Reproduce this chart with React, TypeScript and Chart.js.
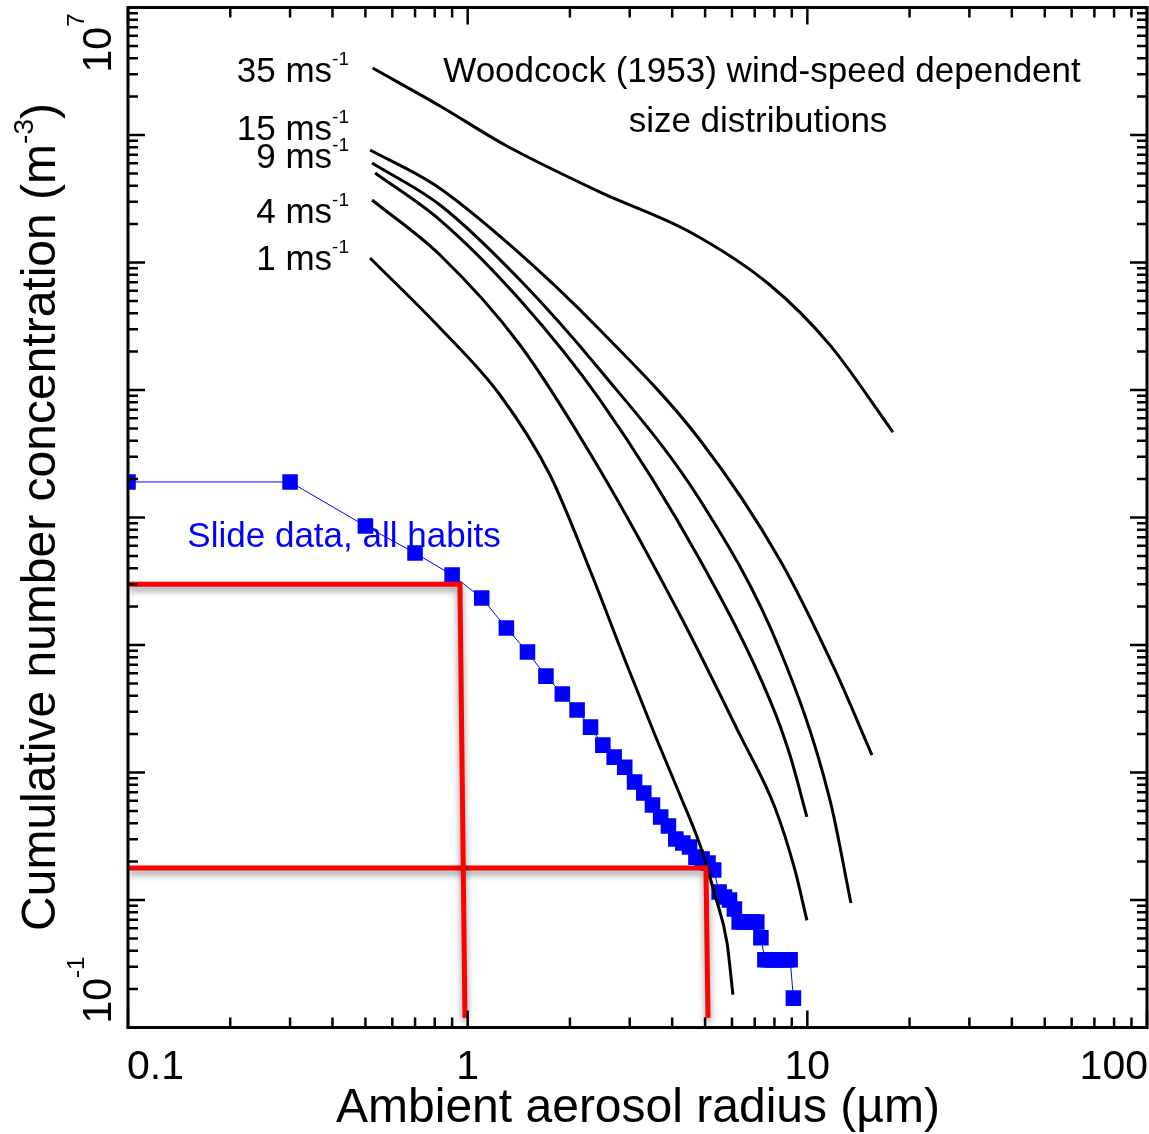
import React, { useEffect, useRef } from "react";
import { Chart, registerables } from "chart.js";

Chart.register(...registerables);

const FONT = '"Liberation Sans", Arial, Helvetica, sans-serif';

// Slide data (all habits): radius (um) and cumulative concentration (m^-3)
const slideRadius = [
  0.1, 0.3, 0.5, 0.7, 0.9, 1.1, 1.3, 1.5, 1.7, 1.9, 2.1, 2.3, 2.5, 2.7, 2.9,
  3.1, 3.3, 3.5, 3.7, 3.9, 4.1, 4.3, 4.5, 4.7, 4.9, 5.1, 5.3, 5.5, 5.7, 5.9,
  6.1, 6.3, 6.5, 6.7, 6.9, 7.1, 7.3, 7.5, 7.7, 7.9, 8.1, 8.3, 8.5, 8.7, 8.9, 9.1,
];
const slideConc = [
  1900, 1900, 858, 527, 354, 234, 136, 88, 57, 41.3, 30.9, 22.7, 16.4, 13.2, 11.0,
  8.42, 6.9, 5.56, 4.48, 3.81, 3.01, 2.8, 2.6, 2.17, 2.1, 1.95, 1.72, 1.155, 1.055, 1.0,
  0.85, 0.672, 0.672, 0.672, 0.672, 0.672, 0.505, 0.34, 0.34, 0.34, 0.34, 0.34, 0.34, 0.34, 0.34, 0.17,
];

// Woodcock (1953) wind-speed dependent size distributions
const w35Radius = [0.525, 0.829, 1.288, 2.452, 4.512, 7.76, 11.66, 17.86];
const w35Conc = [3.35e6, 1.69e6, 8.35e5, 3.57e5, 1.735e5, 6.66e4, 2.25e4, 4.68e3];

const w15Radius = [0.516, 0.801, 1.332, 2.452, 4.83, 8.304, 12.06, 15.5];
const w15Conc = [7.63e5, 4.05e5, 1.372e5, 2.955e4, 4053, 464, 63.7, 13.7];

const w12Radius = [0.523, 0.829, 1.426, 2.452, 4.83, 8.304, 11.66, 13.44];
const w12Conc = [6.03e5, 2.825e5, 7.29e4, 1.435e4, 1372, 91.4, 6.08, 0.947];

const w9Radius = [0.534, 0.829, 1.426, 2.452, 4.83, 7.76, 8.887, 9.972];
const w9Conc = [5.04e5, 2.154e5, 5.08e4, 8350, 464, 37.0, 13.7, 4.48];

const w4Radius = [0.523, 0.829, 1.426, 2.452, 4.217, 6.332, 8.027, 9.192, 9.972];
const w4Conc = [3.09e5, 1.145e5, 2.254e4, 2358, 171.9, 19.7, 5.32, 1.72, 0.691];

const w1Radius = [0.516, 0.829, 1.245, 1.747, 2.291, 2.905, 3.559, 4.217, 4.83, 5.346, 5.799, 6.039];
const w1Conc = [1.085e5, 3.064e4, 9138, 2154, 387.5, 76.3, 19.7, 6.66, 2.7, 1.094, 0.464, 0.181];

// Red marker lines
const red1Radius = [0.1, 0.949, 0.982];
const red1Conc = [300, 300, 0.119];
const red2Radius = [0.1, 5.03, 5.1];
const red2Conc = [1.78, 1.78, 0.119];

// Axis ranges and labels
const xMin = 0.1;
const xMax = 100;
const yMin = 0.1;
const yMax = 1e7;
const xTickLabels = ["0.1", "1", "10", "100"];
const xTickValues = [0.1, 1, 10, 100];

const windLabels = [
  { speed: "35", baseline: 82 },
  { speed: "15", baseline: 140 },
  { speed: "9", baseline: 168 },
  { speed: "4", baseline: 223 },
  { speed: "1", baseline: 270 },
];

const pts = (xs: number[], ys: number[]) => xs.map((x, i) => ({ x, y: ys[i] }));

type Part = { text: string; size: number; raise?: number };

function drawRich(ctx: CanvasRenderingContext2D, parts: Part[], x: number, y: number, align: "left" | "right" | "center") {
  let total = 0;
  const widths = parts.map((p) => {
    ctx.font = `${p.size}px ${FONT}`;
    const w = ctx.measureText(p.text).width;
    total += w;
    return w;
  });
  let cx = align === "right" ? x - total : align === "center" ? x - total / 2 : x;
  ctx.textAlign = "left";
  ctx.textBaseline = "alphabetic";
  parts.forEach((p, i) => {
    ctx.font = `${p.size}px ${FONT}`;
    ctx.fillText(p.text, cx, y - (p.raise || 0));
    cx += widths[i];
  });
}

const shadowPlugin = {
  id: "redShadow",
  beforeDatasetDraw(chart: any, args: any) {
    const ds = chart.data.datasets[args.index];
    if (ds.shadow) {
      const ctx = chart.ctx;
      ctx.save();
      ctx.shadowColor = "rgba(0,0,0,0.45)";
      ctx.shadowBlur = 7;
      ctx.shadowOffsetX = 0;
      ctx.shadowOffsetY = 4;
    }
  },
  afterDatasetDraw(chart: any, args: any) {
    const ds = chart.data.datasets[args.index];
    if (ds.shadow) chart.ctx.restore();
  },
};

const framePlugin = {
  id: "idlFrame",
  afterDatasetsDraw(chart: any) {
    const ctx: CanvasRenderingContext2D = chart.ctx;
    const { left, right, top, bottom } = chart.chartArea;
    const xs = chart.scales.x;
    const ys = chart.scales.y;
    ctx.save();
    ctx.strokeStyle = "#000";
    ctx.fillStyle = "#000";
    ctx.lineWidth = 2.5;
    ctx.lineCap = "butt";
    const MAJ = 17;
    const MIN = 10;
    for (let d = xMin; d < xMax * 1.01; d *= 10) {
      for (let k = 1; k <= 9; k++) {
        const v = d * k;
        if (v > xMax * 1.001) break;
        const px = xs.getPixelForValue(v);
        const len = k === 1 ? MAJ : MIN;
        ctx.beginPath();
        ctx.moveTo(px, bottom);
        ctx.lineTo(px, bottom - len);
        ctx.moveTo(px, top);
        ctx.lineTo(px, top + len);
        ctx.stroke();
      }
    }
    for (let d = yMin; d < yMax * 1.01; d *= 10) {
      for (let k = 1; k <= 9; k++) {
        const v = d * k;
        if (v > yMax * 1.001) break;
        const py = ys.getPixelForValue(v);
        const len = k === 1 ? MAJ : MIN;
        ctx.beginPath();
        ctx.moveTo(left, py);
        ctx.lineTo(left + len, py);
        ctx.moveTo(right, py);
        ctx.lineTo(right - len, py);
        ctx.stroke();
      }
    }
    ctx.lineWidth = 3;
    ctx.strokeRect(left, top, right - left, bottom - top);

    // x tick labels
    xTickValues.forEach((v, i) => {
      const px = xs.getPixelForValue(v);
      const label = xTickLabels[i];
      if (i === 0) drawRich(ctx, [{ text: label, size: 41 }], px - 1, 1079, "left");
      else if (i === xTickValues.length - 1) drawRich(ctx, [{ text: label, size: 41 }], px + 1, 1079, "right");
      else drawRich(ctx, [{ text: label, size: 41 }], px, 1079, "center");
    });

    // y tick labels (rotated)
    const yl = [
      { v: yMax, exp: "7", align: "right" as const, off: 6 },
      { v: yMin, exp: "-1", align: "left" as const, off: -4 },
    ];
    yl.forEach((l) => {
      const py = ys.getPixelForValue(l.v) + l.off;
      ctx.save();
      ctx.translate(111, py);
      ctx.rotate(-Math.PI / 2);
      drawRich(ctx, [{ text: "10", size: 41 }, { text: l.exp, size: 24, raise: 27 }], 0, 0, l.align);
      ctx.restore();
    });

    // axis titles
    drawRich(ctx, [{ text: "Ambient aerosol radius (\u00b5m)", size: 48 }], 638, 1122, "center");
    ctx.save();
    ctx.translate(55, 517);
    ctx.rotate(-Math.PI / 2);
    drawRich(
      ctx,
      [
        { text: "Cumulative number concentration (m", size: 48 },
        { text: "-3", size: 28, raise: 22 },
        { text: ")", size: 48 },
      ],
      0,
      0,
      "center"
    );
    ctx.restore();

    // annotations
    windLabels.forEach((w) => {
      drawRich(ctx, [{ text: `${w.speed} ms`, size: 35 }, { text: "-1", size: 19, raise: 17 }], 349, w.baseline, "right");
    });
    drawRich(ctx, [{ text: "Woodcock (1953) wind-speed dependent", size: 35 }], 762, 82, "center");
    drawRich(ctx, [{ text: "size distributions", size: 35 }], 758, 132, "center");
    ctx.fillStyle = "#0000ff";
    drawRich(ctx, [{ text: "Slide data, all habits", size: 35 }], 344, 547, "center");
    ctx.restore();
  },
};

export default function App() {
  const ref = useRef<HTMLCanvasElement | null>(null);
  useEffect(() => {
    document.body.style.margin = "0";
    document.body.style.background = "#fff";
    const canvas = ref.current!;
    const black = (xs: number[], ys: number[]) => ({
      data: pts(xs, ys),
      borderColor: "#000",
      borderWidth: 3,
      pointRadius: 0,
      cubicInterpolationMode: "monotone" as const,
      fill: false,
    });
    const red = (xs: number[], ys: number[]) => ({
      data: pts(xs, ys),
      borderColor: "#ff0000",
      borderWidth: 5,
      pointRadius: 0,
      tension: 0,
      fill: false,
      shadow: true,
      borderJoinStyle: "miter" as const,
    });
    const chart = new Chart(canvas, {
      type: "line",
      data: {
        datasets: [
          red(red1Radius, red1Conc),
          red(red2Radius, red2Conc),
          black(w35Radius, w35Conc),
          black(w15Radius, w15Conc),
          black(w12Radius, w12Conc),
          black(w9Radius, w9Conc),
          black(w4Radius, w4Conc),
          black(w1Radius, w1Conc),
          {
            data: pts(slideRadius, slideConc),
            borderColor: "#0000ff",
            borderWidth: 1,
            pointStyle: "rect",
            pointRadius: 11,
            pointHoverRadius: 11,
            pointBorderWidth: 0,
            pointBackgroundColor: "#0000ff",
            tension: 0,
            fill: false,
          },
        ] as any,
      },
      options: {
        responsive: false,
        animation: false,
        devicePixelRatio: 1,
        layout: { autoPadding: false, padding: { left: 128, top: 7.5, right: 2, bottom: 106.5 } },
        scales: {
          x: { type: "logarithmic", min: xMin, max: xMax, display: false },
          y: { type: "logarithmic", min: yMin, max: yMax, display: false },
        },
        plugins: { legend: { display: false }, tooltip: { enabled: false } },
      },
      plugins: [shadowPlugin, framePlugin],
    });
    return () => chart.destroy();
  }, []);
  return (
    <div style={{ width: 1149, height: 1134, background: "#fff" }}>
      <canvas ref={ref} width={1149} height={1134} style={{ display: "block" }} />
    </div>
  );
}
